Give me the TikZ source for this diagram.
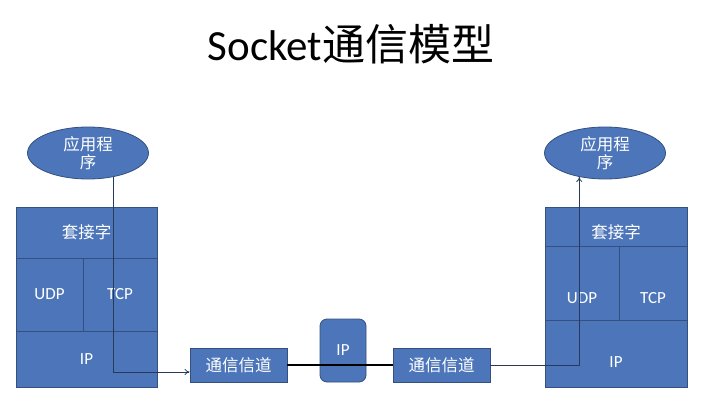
\documentclass[tikz,border=0pt]{standalone}
\usepackage{fontspec}
\setmainfont{Carlito}
\newfontfamily\cjk{Noto Sans CJK SC}
\usetikzlibrary{shapes.geometric,arrows.meta}

\definecolor{boxblue}{RGB}{76,118,185}
\definecolor{edgeblue}{RGB}{52,80,128}
\definecolor{wireblue}{RGB}{40,58,92}

\begin{document}
\begin{tikzpicture}[x=1pt,y=-1pt,
	cell/.style={draw=edgeblue, fill=boxblue, text=white, line width=0.8pt, inner sep=0pt, font=\fontsize{17}{20}\selectfont},
	app/.style={ellipse, draw=edgeblue, fill=boxblue, text=white, line width=0.8pt, inner sep=0pt, minimum width=121pt, minimum height=52pt, align=center, font=\cjk\fontsize{16.5}{18}\selectfont},
	wire/.style={draw=wireblue, line width=0.8pt, -{To[length=5pt,width=6pt]}}]
	\useasboundingbox[fill=white] (0,0) rectangle (719,401);

	% Title
	\node (title) at (351,44) {\fontsize{43}{46}\selectfont Socket{\cjk 通信模型}};

	% Left host
	\node[app] (appL) at (88,153) {应用程\\序};
	\node[cell, minimum width=141pt, minimum height=51pt] (sockL) at (86.5,232.5) {\cjk\fontsize{16.5}{18}\selectfont 套接字};
	\node[cell, minimum width=67pt, minimum height=73pt] (udpL) at (49.5,294.5) {UDP};
	\node[cell, minimum width=74pt, minimum height=73pt] (tcpL) at (120,294.5) {TCP};
	\node[cell, minimum width=141pt, minimum height=56pt] (ipL) at (86.5,359) {IP};

	% Right host
	\node[app] (appR) at (605,153) {应用程\\序};
	\node[cell, minimum width=142pt, minimum height=39pt, label={[text=white, yshift=-6pt, font=\cjk\fontsize{16.5}{18}\selectfont]center:套接字}] (sockR) at (616,226.5) {};
	\node[cell, minimum width=74pt, minimum height=74pt, label={[text=white, yshift=-15pt, font=\fontsize{17}{20}\selectfont]center:UDP}] (udpR) at (582,283) {};
	\node[cell, minimum width=68pt, minimum height=74pt, label={[text=white, yshift=-15pt, font=\fontsize{17}{20}\selectfont]center:TCP}] (tcpR) at (653,283) {};
	\node[cell, minimum width=142pt, minimum height=67pt, label={[text=white, yshift=-9pt, font=\fontsize{17}{20}\selectfont]center:IP}] (ipR) at (616,353.5) {};

	% Channel
	\node[cell, minimum width=97pt, minimum height=34pt] (chanL) at (238.5,365) {\cjk\fontsize{16.5}{18}\selectfont 通信信道};
	\node[cell, rounded corners=7pt, minimum width=46pt, minimum height=63pt] (ipM) at (343,350.5) {IP};
	\node[cell, minimum width=97pt, minimum height=34pt] (chanR) at (441.5,365) {\cjk\fontsize{16.5}{18}\selectfont 通信信道};
	\draw[line width=2.6pt] (chanL.east) -- (chanR.west);

	% Data path
	\draw[wire] (appL.-43) |- ([yshift=-7pt]chanL.west);
	\draw[wire] (chanR.east) -| (appR.-137);
\end{tikzpicture}
\end{document}
